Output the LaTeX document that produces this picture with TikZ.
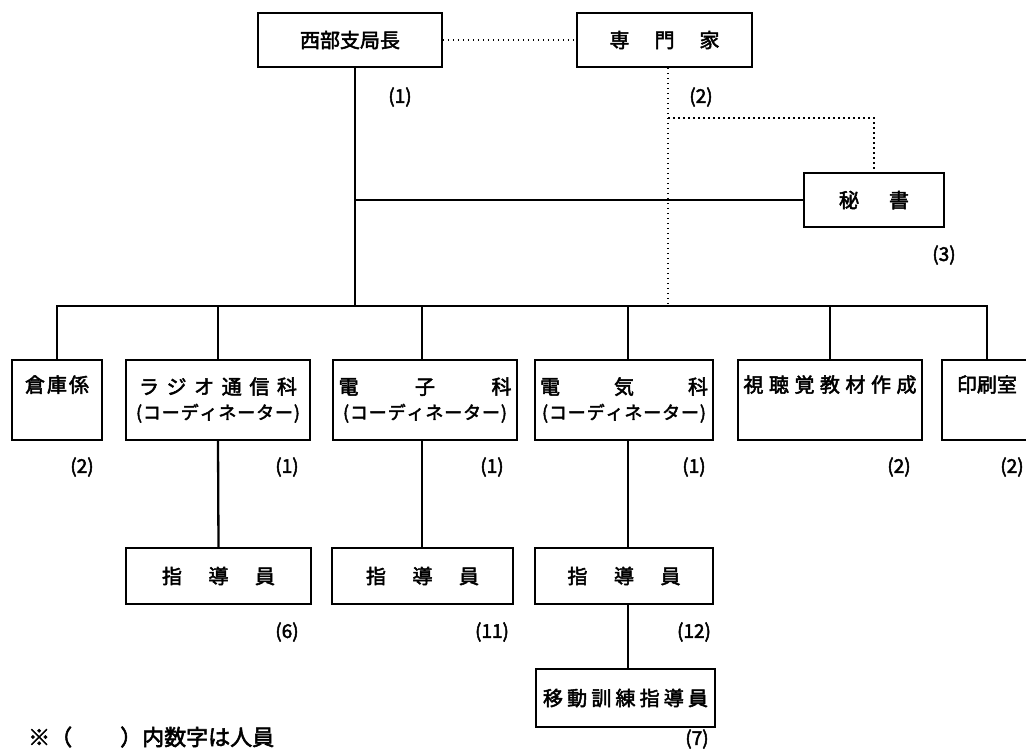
\documentclass[tikz,border=0pt]{standalone}
\usepackage{fontspec}
\usepackage{graphicx}
\newfontfamily\cjk[FakeBold=2.5]{Noto Sans CJK JP}
\newcommand\spr[2]{\makebox[#1pt]{#2}}
\begin{document}
\begin{tikzpicture}[x=1pt,y=-1pt,
  box/.style={draw,line width=1.5pt,inner sep=0pt,align=center,
    font=\cjk\fontsize{20}{25}\selectfont},
  num/.style={inner sep=0pt,font=\cjk\fontsize{19}{22}\selectfont},
  thickline/.style={line width=2.3pt},
  thinline/.style={line width=1.2pt},
  dotline/.style={line width=1.6pt,dash pattern=on 1.6pt off 3.4pt}]
\useasboundingbox (0,0) rectangle (1026,748);

% top level
\node[box,minimum width=184pt,minimum height=54pt] (seibu) at (350,40)
  {\spr{100}{西\hfill 部\hfill 支\hfill 局\hfill 長}};
\node[box,minimum width=175pt,minimum height=54pt] (senmon) at (664.5,40)
  {\spr{110}{専\hfill 門\hfill 家}};
\node[box,minimum width=140pt,minimum height=54pt] (hisho) at (874,200)
  {\spr{70}{秘\hfill 書}};

\node[num] (n1) at (400,97) {(1)};
\node[num] (n2) at (701,97) {(2)};
\node[num] (n3) at (944,255) {(3)};

% second row
\node[box,minimum width=90pt,minimum height=80pt] (souko) at (57,400)
  {\spr{64}{倉\hfill 庫\hfill 係}\\ \strut};
\node[box,minimum width=184pt,minimum height=80pt] (radio) at (218,400)
  {\spr{158}{ラ\hfill ジ\hfill オ\hfill 通\hfill 信\hfill 科}\\
   \spr{164}{\fontsize{18}{25}\selectfont (\hfill コ\hfill ー\hfill デ\hfill ィ\hfill ネ\hfill ー\hfill タ\hfill ー\hfill )}};
\node[box,minimum width=184pt,minimum height=80pt] (denshi) at (425,400)
  {\spr{173}{電\hfill 子\hfill 科}\\
   \spr{164}{\fontsize{18}{25}\selectfont (\hfill コ\hfill ー\hfill デ\hfill ィ\hfill ネ\hfill ー\hfill タ\hfill ー\hfill )}};
\node[box,minimum width=178pt,minimum height=80pt] (denki) at (624,400)
  {\spr{168}{電\hfill 気\hfill 科}\\
   \spr{164}{\fontsize{18}{25}\selectfont (\hfill コ\hfill ー\hfill デ\hfill ィ\hfill ネ\hfill ー\hfill タ\hfill ー\hfill )}};
\node[box,minimum width=184pt,minimum height=80pt] (shichou) at (830,400)
  {\spr{173}{視\hfill 聴\hfill 覚\hfill 教\hfill 材\hfill 作\hfill 成}\\ \strut};
\node[box,minimum width=90pt,minimum height=80pt] (insatsu) at (987,400)
  {\spr{60}{印\hfill 刷\hfill 室}\\ \strut};

\node[num] (n4) at (82,467) {(2)};
\node[num] (n5) at (287,467) {(1)};
\node[num] (n6) at (492,467) {(1)};
\node[num] (n7) at (694,467) {(1)};
\node[num] (n8) at (899,467) {(2)};
\node[num] (n9) at (1012,467) {(2)};

% third row
\node[box,minimum width=185pt,minimum height=56pt] (s1) at (218.5,576)
  {\spr{113}{指\hfill 導\hfill 員}};
\node[box,minimum width=181pt,minimum height=56pt] (s2) at (422.5,576)
  {\spr{113}{指\hfill 導\hfill 員}};
\node[box,minimum width=178pt,minimum height=56pt] (s3) at (624,576)
  {\spr{113}{指\hfill 導\hfill 員}};

\node[num] (n10) at (287,632) {(6)};
\node[num] (n11) at (492,632) {(11)};
\node[num] (n12) at (694,632) {(12)};

% fourth row
\node[box,minimum width=179pt,minimum height=58pt] (idou) at (625.5,698)
  {\spr{165}{移\hfill 動\hfill 訓\hfill 練\hfill 指\hfill 導\hfill 員}};
\node[num] (n13) at (697,739) {(7)};

% footnote
\node[anchor=west,inner sep=0pt,font=\cjk\fontsize{22}{24}\selectfont] (note) at (28,737)
  {※（\hspace{48pt}）内数字は人員};

% connectors
\coordinate (trunk) at (355,306);
\coordinate (dtop) at (668,306);
\coordinate (hcorner) at (668,118);
\coordinate (bL) at (57,306);
\coordinate (bR) at (987,306);
\coordinate (dDenshi) at (422,306);
\coordinate (dDenki) at (628,306);

\draw[dotline] (seibu.east) -- (senmon.west);
\draw[thickline] (trunk |- seibu.south) -- (trunk);
\draw[thinline] (trunk |- hisho.west) -- (hisho.west);
\draw[dotline] (dtop |- senmon.south) -- (dtop);
\draw[dotline] (hcorner) -- (hcorner -| hisho.north) -- (hisho.north);

\draw[thinline,line join=miter] (souko.north) -- (bL) -- (bR) -- (insatsu.north);
\draw[thickline] (radio.north |- bL) -- (radio.north);
\draw[thinline] (dDenshi) -- (dDenshi |- denshi.north);
\draw[thickline] (dDenki) -- (dDenki |- denki.north);
\draw[thickline] (shichou.north |- bL) -- (shichou.north);

\draw[thickline] (radio.south) -- (s1.north);
\draw[thinline] (dDenshi |- denshi.south) -- (dDenshi |- s2.north);
\draw[thickline] (dDenki |- denki.south) -- (dDenki |- s3.north);
\draw[thickline] (dDenki |- s3.south) -- (dDenki |- idou.north);
\end{tikzpicture}
\end{document}
